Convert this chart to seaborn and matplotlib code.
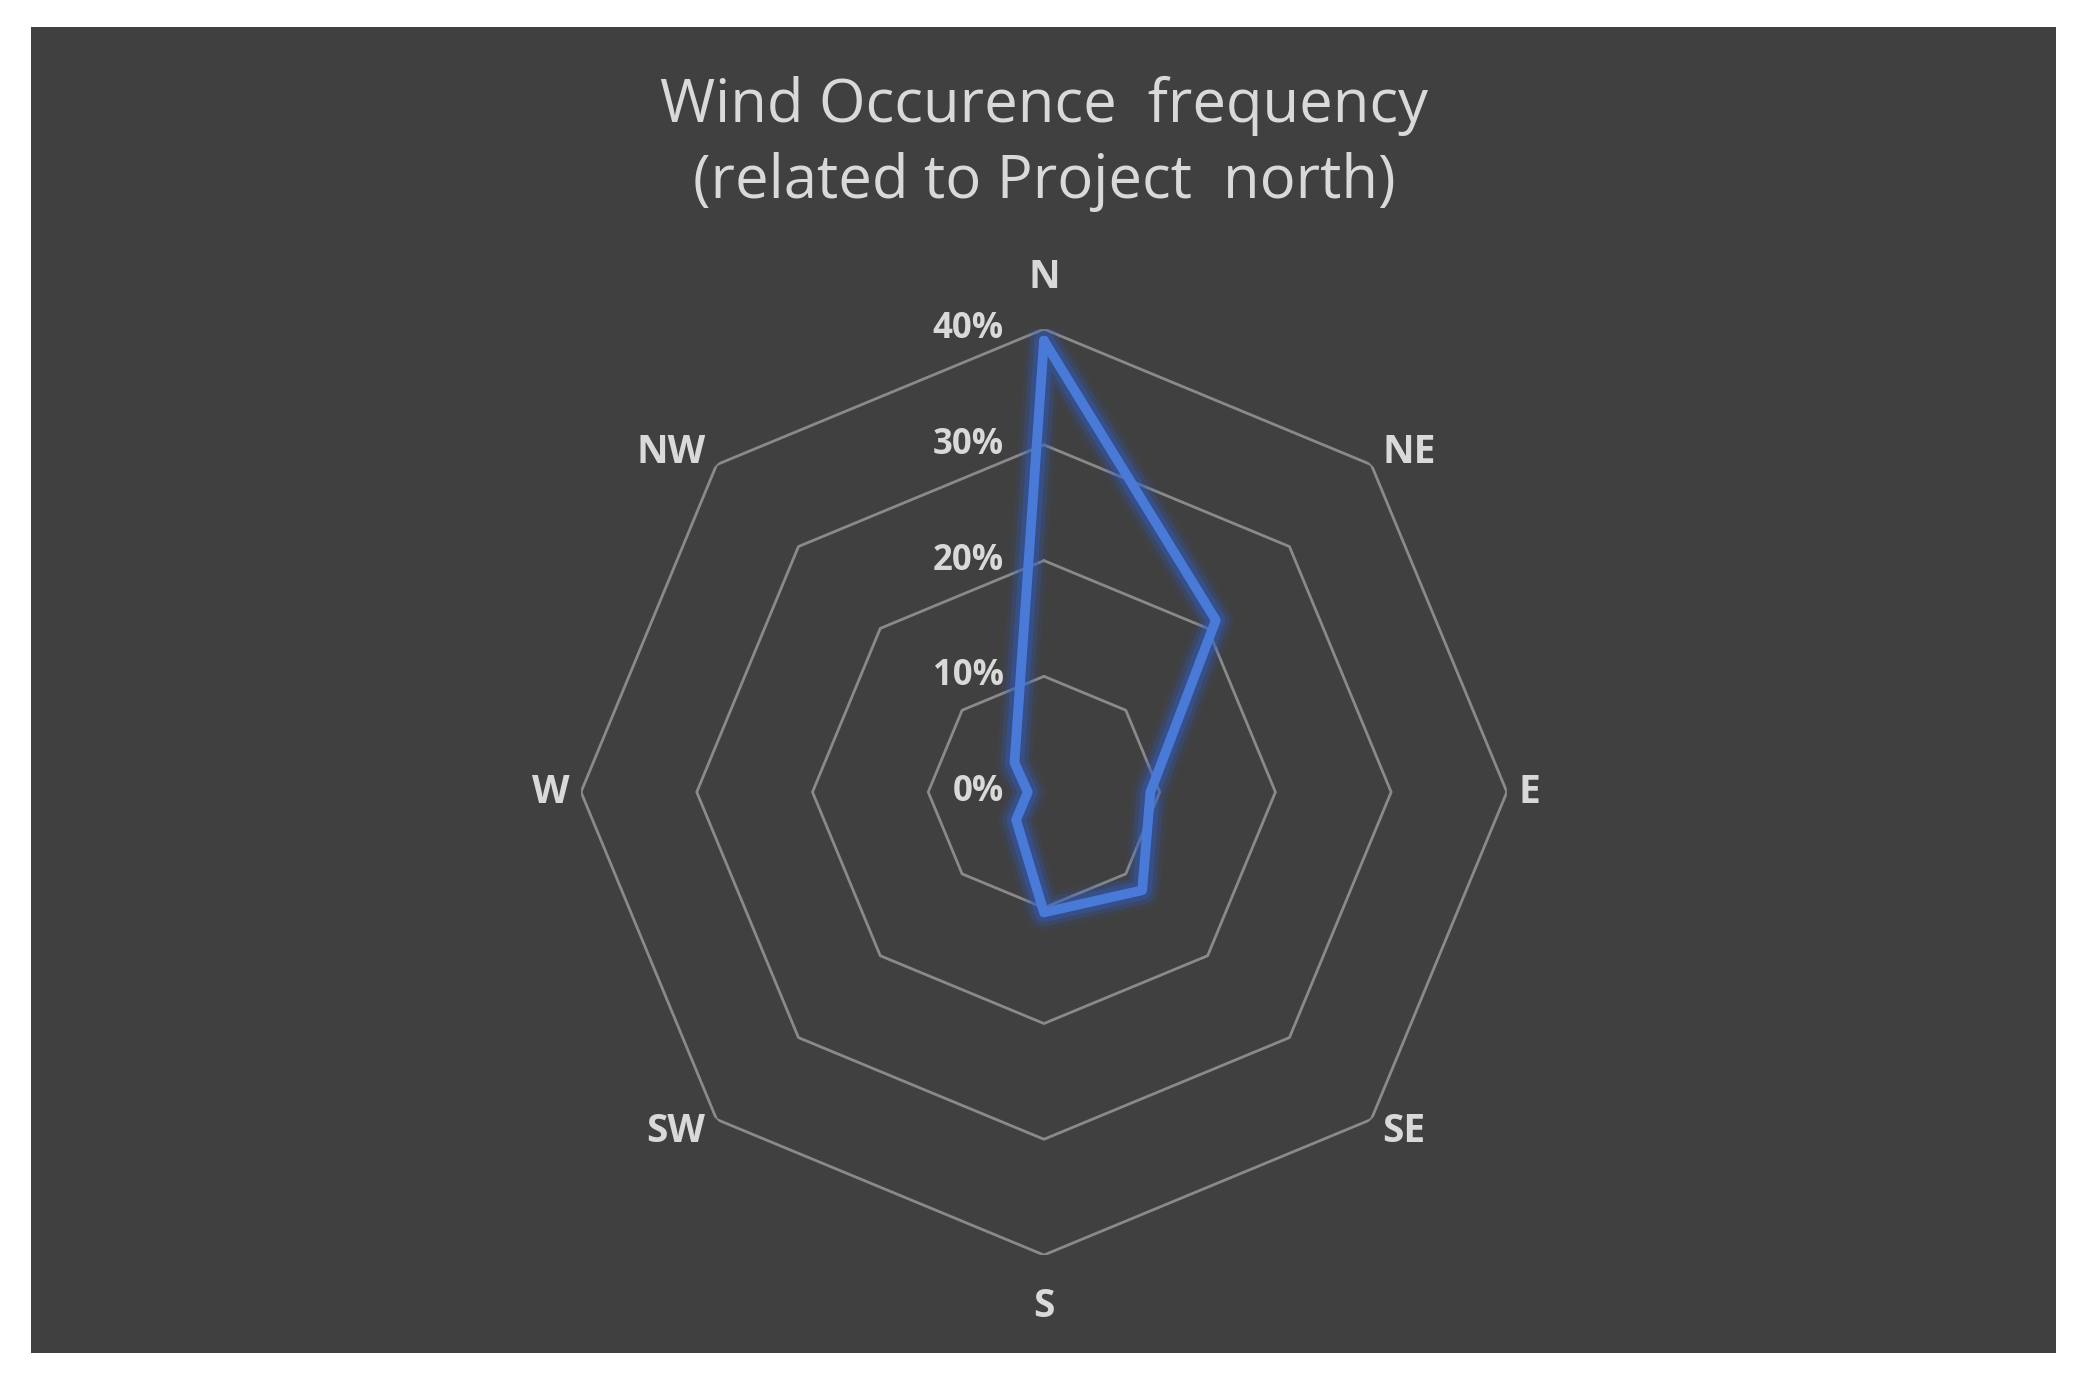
import numpy as np
import pandas as pd
import matplotlib
matplotlib.use("Agg")
import matplotlib.pyplot as plt
import matplotlib.patheffects as pe
from matplotlib.patches import Rectangle
import seaborn as sns

# ==========================================
# Data
# ==========================================

directions = ["N", "NE", "E", "SE", "S", "SW", "W", "NW"]
frequency = [0.39, 0.21, 0.092, 0.12, 0.104, 0.034, 0.014, 0.036]
ring_levels = [0.10, 0.20, 0.30, 0.40]
ring_labels = ["0%", "10%", "20%", "30%", "40%"]

title_text = "Wind Occurence  frequency\n(related to Project  north)"

# ==========================================
# Style
# ==========================================

sns.set_style("white")
plt.rcParams["font.family"] = ["Open Sans", "DejaVu Sans"]

panel_color = "#404040"
text_color = "#d9d9d9"
grid_color = "#8a8a8a"
line_color = "#4a7ad8"
glow_color = "#2f5cc0"

fig = plt.figure(figsize=(20.8, 13.84), dpi=100, facecolor="white")

# dark chart area
fig.patches.append(Rectangle((0.0149, 0.0224), 0.9736, 0.958,
                             transform=fig.transFigure,
                             facecolor=panel_color, edgecolor="none", zorder=-10))

ax = fig.add_axes([0.2793, 0.0932, 0.4452, 0.669], projection="polar")
ax.set_facecolor("none")
ax.set_zorder(1)
ax.set_theta_zero_location("N")
ax.set_theta_direction(-1)

n = len(directions)
angles = np.linspace(0, 2 * np.pi, n, endpoint=False)
angles_closed = np.append(angles, 2 * np.pi)

# ==========================================
# Octagon grid
# ==========================================

for lvl in ring_levels:
    ax.plot(angles_closed, [lvl] * (n + 1), color=grid_color, lw=2, zorder=1)

# ==========================================
# Data line with glow
# ==========================================

df = pd.DataFrame({
    "angle": angles_closed,
    "freq": frequency + frequency[:1],
})

sns.lineplot(data=df, x="angle", y="freq", sort=False, estimator=None,
             color=line_color, lw=7, ax=ax, zorder=3)
line = ax.lines[-1]
line.set_solid_joinstyle("round")
line.set_path_effects([
    pe.Stroke(linewidth=26, foreground=glow_color, alpha=0.10),
    pe.Stroke(linewidth=20, foreground=glow_color, alpha=0.20),
    pe.Stroke(linewidth=14, foreground=glow_color, alpha=0.40),
    pe.Normal(),
])

# ==========================================
# Axes and labels
# ==========================================

ax.set_ylim(0, 0.40)
ax.set_xticks([])
ax.set_yticks([])
ax.grid(False)
ax.spines["polar"].set_visible(False)
ax.set_xlabel("")
ax.set_ylabel("")

for i, lab in enumerate(ring_labels):
    ax.annotate(lab, xy=(0, i * 0.10), xytext=(-29, 0), textcoords="offset points",
                ha="right", va="center", fontsize=25, color=text_color,
                fontweight="bold", annotation_clip=False)

# category labels sit just outside the outer octagon corner
for ang, lab in zip(angles, directions):
    s = int(round(np.sin(ang)))
    c = int(round(np.cos(ang)))
    if s == 0:
        off = (0, 37 * c)
        ha = "center"
    else:
        off = (8 * s, 9 * c)
        ha = "left" if s > 0 else "right"
    ax.annotate(lab, xy=(ang, 0.40), xytext=off, textcoords="offset points",
                ha=ha, va="center", fontsize=28, color=text_color,
                fontweight="bold", annotation_clip=False)

fig.text(0.502, 0.896, title_text, ha="center", va="center", fontsize=43,
         color=text_color, linespacing=1.35)

plt.savefig("out.png", dpi=100, facecolor="white")
